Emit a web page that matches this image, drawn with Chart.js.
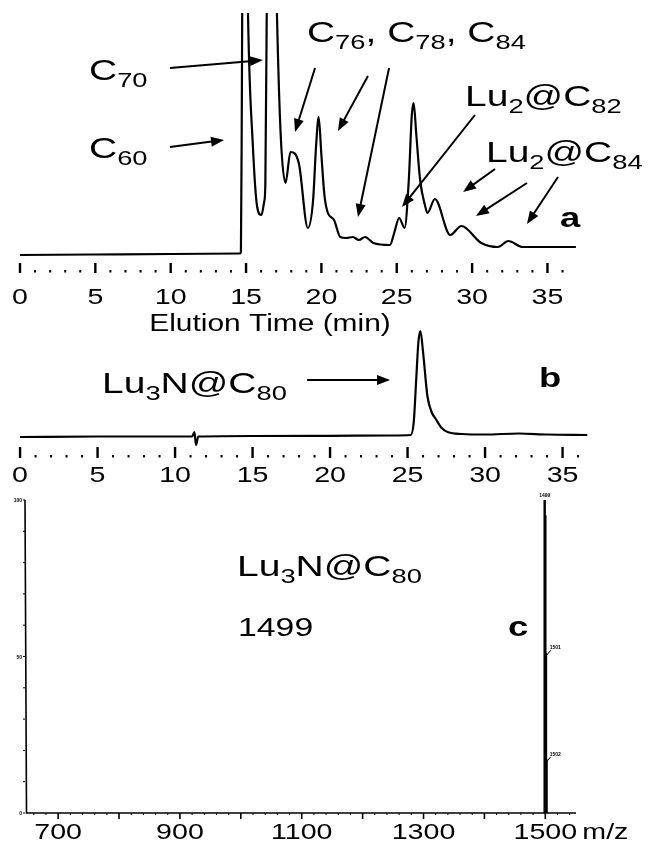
<!DOCTYPE html>
<html>
<head>
<meta charset="utf-8">
<script src="https://cdn.jsdelivr.net/npm/chart.js@4.4.0/dist/chart.umd.min.js"></script>
<style>
  body { margin: 0; background: #fff; width: 649px; height: 842px; position: relative; overflow: hidden; }
  canvas { position: absolute; left: 0; }
</style>
</head>
<body>
<canvas id="chartA" width="649" height="345" style="top:0px"></canvas>
<canvas id="chartB" width="649" height="170" style="top:320px"></canvas>
<canvas id="chartC" width="649" height="362" style="top:480px"></canvas>
<script>
// ---- data ----
// (a) HPLC of the soot extract, elution time (min) vs detector signal (arb.)
const chromA_time = [0, 5, 10, 14.6, 14.66, 14.72, 14.85, 15.0, 15.13, 15.45, 15.74, 16.02, 16.2, 16.28, 16.4, 16.6, 16.85, 17.05,
  17.3, 17.62, 17.95, 18.5, 19.1, 19.45, 19.65, 19.82, 20.0, 20.2, 20.43, 20.84, 21.25, 21.65, 22.08, 22.49, 22.9, 23.45, 24.55, 24.83,
  25.16, 25.52, 25.8, 26.0, 26.12, 26.3, 26.55, 26.9, 27.03, 27.53, 28.55, 29.29, 30.61, 31.71, 32.4, 33.36, 34.47, 36.89];
const chromA_signal = [0, 0.5, 1, 1.5, 3, 150, 600, 400, 241, 110, 48, 40, 53, 70, 300, 600, 400, 241,
  120, 72, 103, 92, 27, 55, 110, 138, 100, 60, 42, 35, 18, 17, 18, 15, 18, 12, 10, 22,
  37, 27, 75, 140, 152, 120, 75, 48, 42, 56, 20, 29, 12, 8, 14, 8, 8, 8];

// (b) HPLC of the purified Lu3N@C80
const chromB_time = [0, 5, 11.1, 11.25, 11.35, 11.5, 15, 20, 24, 25.2, 25.4, 25.55, 25.7, 25.83, 26.0, 26.28, 26.55, 26.82, 27.2, 27.62, 28.5, 30, 32.2, 34, 36.6];
const chromB_signal = [0, 0.5, 0.5, 5, -8, 0.5, 1, 1.2, 1.5, 2, 15, 55, 95, 106, 85, 41, 25, 18, 9, 4.7, 3, 2.5, 3.5, 2.5, 2];

// (c) mass spectrum, m/z vs relative intensity
const msMass = [1499, 1500, 1501, 1502];
const msIntensity = [100, 95, 51, 17];

const timeTicks = [0, 5, 10, 15, 20, 25, 30, 35];
const massTicks = [700, 900, 1100, 1300, 1500];

// ---- annotations (data units of each panel) ----
const labelsA = [
  { parts: [['C', 0], ['70', 1]], x: 4.58, y: 175 },
  { parts: [['C', 0], ['60', 1]], x: 4.58, y: 97 },
  { parts: [['C', 0], ['76', 1], [', C', 0], ['78', 1], [', C', 0], ['84', 1]], x: 19.04, y: 213 },
  { parts: [['Lu', 0], ['2', 1], ['@C', 0], ['82', 1]], x: 29.53, y: 149 },
  { parts: [['Lu', 0], ['2', 1], ['@C', 0], ['84', 1]], x: 30.92, y: 93 }
];
const arrowsA = [
  [9.95, 187, 16.12, 195], [9.95, 108, 13.54, 115],
  [19.58, 187, 18.25, 123], [23.09, 179, 21.1, 124], [24.49, 187, 22.43, 38],
  [30.19, 140, 25.35, 48],
  [31.52, 86, 29.4, 63], [33.64, 72, 30.26, 39], [35.7, 78, 33.64, 31]
];
const labelsB = [{ parts: [['Lu', 0], ['3', 1], ['N@C', 0], ['80', 1]], x: 5.29, y: 44 }];
const arrowsB = [[18.52, 57, 23.87, 57]];
const labelsC = [{ parts: [['Lu', 0], ['3', 1], ['N@C', 0], ['80', 1]], x: 993.8, y: 75.7 }];

const FONT = '"Liberation Sans", Arial, Helvetica, sans-serif';
const STRETCH = 1.3;

function drawText(ctx, s, x, y, size, bold, align) {
  ctx.font = (bold ? 'bold ' : '') + size + 'px ' + FONT;
  const w = ctx.measureText(s).width * STRETCH;
  let x0 = x;
  if (align === 'center') x0 = x - w / 2;
  ctx.save();
  ctx.translate(x0, y);
  ctx.scale(STRETCH, 1);
  ctx.fillText(s, 0, 0);
  ctx.restore();
  return w;
}

function drawFormula(ctx, parts, x, y) {
  let cx = x;
  parts.forEach(p => {
    if (p[1]) cx += drawText(ctx, p[0], cx, y + 7, 21, false);
    else cx += drawText(ctx, p[0], cx, y, 30, false);
  });
}

function drawArrow(ctx, x1, y1, x2, y2) {
  const a = Math.atan2(y2 - y1, x2 - x1);
  const len = 13, half = 5;
  ctx.beginPath();
  ctx.moveTo(x1, y1);
  ctx.lineTo(x2 - Math.cos(a) * len * 0.8, y2 - Math.sin(a) * len * 0.8);
  ctx.stroke();
  ctx.beginPath();
  ctx.moveTo(x2, y2);
  ctx.lineTo(x2 - Math.cos(a) * len - Math.sin(a) * half, y2 - Math.sin(a) * len + Math.cos(a) * half);
  ctx.lineTo(x2 - Math.cos(a) * len + Math.sin(a) * half, y2 - Math.sin(a) * len - Math.cos(a) * half);
  ctx.closePath();
  ctx.fill();
}

// dotted time axis under the chromatograms, drawn from the chart's own x scale
function timeAxisPlugin(cfg) {
  return {
    id: 'timeAxis',
    afterDraw(chart) {
      const ctx = chart.ctx, xs = chart.scales.x, ys = chart.scales.y;
      const y0 = ys.getPixelForValue(0);
      ctx.save();
      ctx.fillStyle = '#000';
      ctx.strokeStyle = '#000';
      for (let t = 0; t <= 36; t++) {
        const px = xs.getPixelForValue(t);
        if (t % 5 === 0) ctx.fillRect(px - 1.2, y0 + cfg.tickTop, 2.4, cfg.tickLen);
        else ctx.fillRect(px - 1, y0 + cfg.tickTop + cfg.tickLen - 3, 2, 2.5);
      }
      ctx.textBaseline = 'alphabetic';
      timeTicks.forEach(t => drawText(ctx, String(t), xs.getPixelForValue(t), y0 + cfg.labelOff, 22, false, 'center'));
      if (cfg.title) drawText(ctx, cfg.title, cfg.titleX, y0 + cfg.titleOff, 23, false, 'center');

      ctx.lineWidth = 2;
      cfg.labels.forEach(l => drawFormula(ctx, l.parts, xs.getPixelForValue(l.x), ys.getPixelForValue(l.y)));
      cfg.arrows.forEach(a => drawArrow(ctx, xs.getPixelForValue(a[0]), ys.getPixelForValue(a[1]),
        xs.getPixelForValue(a[2]), ys.getPixelForValue(a[3])));
      drawText(ctx, cfg.tag, xs.getPixelForValue(cfg.tagX), ys.getPixelForValue(cfg.tagY), 28, true);
      ctx.restore();
    }
  };
}

function lineChart(id, xs, ys, xr, yr, pad, plugin) {
  return new Chart(document.getElementById(id), {
    type: 'line',
    data: {
      datasets: [{
        data: xs.map((t, i) => ({ x: t, y: ys[i] })),
        borderColor: '#000',
        borderWidth: 2.2,
        pointRadius: 0,
        cubicInterpolationMode: 'monotone',
        fill: false,
        clip: 1
      }]
    },
    options: {
      responsive: false,
      animation: false,
      events: [],
      layout: { padding: pad },
      plugins: { legend: { display: false }, tooltip: { enabled: false } },
      scales: {
        x: { type: 'linear', min: xr[0], max: xr[1], display: false },
        y: { type: 'linear', min: yr[0], max: yr[1], display: false }
      }
    },
    plugins: [plugin]
  });
}

lineChart('chartA', chromA_time, chromA_signal, [-0.53, 37.16], [-3, 241],
  { left: 12, right: 69, top: 14, bottom: 87 },
  timeAxisPlugin({ tickTop: 8, tickLen: 10, labelOff: 49, title: 'Elution Time (min)', titleX: 270, titleOff: 76,
    labels: labelsA, arrows: arrowsA, tag: 'a', tagX: 35.83, tagY: 28 }));

lineChart('chartB', chromB_time, chromB_signal, [-0.52, 36.9], [-13, 111],
  { left: 12, right: 57, top: 6, bottom: 40 },
  timeAxisPlugin({ tickTop: 10, tickLen: 11, labelOff: 45, title: '',
    labels: labelsB, arrows: arrowsB, tag: 'b', tagX: 33.48, tagY: 50 }));

// mass spectrum axes and peak labels
const msAxisPlugin = {
  id: 'msAxis',
  afterDraw(chart) {
    const ctx = chart.ctx, xs = chart.scales.x, ys = chart.scales.y;
    const left = xs.getPixelForValue(xs.min), right = xs.getPixelForValue(xs.max);
    const top = ys.getPixelForValue(100), bottom = ys.getPixelForValue(0);
    ctx.save();
    ctx.strokeStyle = '#000';
    ctx.fillStyle = '#000';
    ctx.lineWidth = 1.6;
    ctx.beginPath();
    ctx.moveTo(left, top); ctx.lineTo(left + 1.5, bottom); ctx.lineTo(right, bottom);
    ctx.stroke();
    ctx.lineWidth = 1;
    for (let v = 0; v <= 100; v += 10) {
      const py = ys.getPixelForValue(v);
      ctx.beginPath(); ctx.moveTo(left - 2, py); ctx.lineTo(left, py); ctx.stroke();
    }
    for (let m = 660; m <= 1540; m += 20) {
      const px = xs.getPixelForValue(m);
      const major = m % 100 === 0;
      ctx.lineWidth = major ? 1.6 : 1;
      ctx.beginPath(); ctx.moveTo(px, bottom); ctx.lineTo(px, bottom + (major ? 6 : 2)); ctx.stroke();
    }
    massTicks.forEach(m => drawText(ctx, String(m), xs.getPixelForValue(m), bottom + 26, 22, false, 'center'));
    drawText(ctx, 'm/z', xs.getPixelForValue(1500) + 37, bottom + 26, 22, false);
    // tiny intensity labels of the y axis
    ctx.font = 'bold 5px ' + FONT;
    ctx.textAlign = 'right';
    ctx.fillText('100', left - 3, top + 2);
    ctx.fillText('50', left - 3, ys.getPixelForValue(50) + 2);
    ctx.fillText('0', left - 3, bottom + 2);
    // tiny peak labels
    const pk = xs.getPixelForValue(msMass[0]);
    ctx.textAlign = 'center';
    ctx.fillText(String(msMass[0]), pk, ys.getPixelForValue(msIntensity[0]) - 3);
    ctx.textAlign = 'left';
    [2, 3].forEach(i => {
      const py = ys.getPixelForValue(msIntensity[i]);
      ctx.beginPath(); ctx.moveTo(pk + 1, py + 3); ctx.lineTo(pk + 6, py - 3); ctx.stroke();
      ctx.fillText(String(msMass[i]), pk + 5, py - 4);
    });
    // annotations
    labelsC.forEach(l => drawFormula(ctx, l.parts, xs.getPixelForValue(l.x), ys.getPixelForValue(l.y)));
    drawText(ctx, '1499', xs.getPixelForValue(995.4), ys.getPixelForValue(56.5), 26, false);
    drawText(ctx, 'c', xs.getPixelForValue(1438.7), ys.getPixelForValue(56.5), 28, true);
    ctx.restore();
  }
};

new Chart(document.getElementById('chartC'), {
  type: 'bar',
  data: {
    datasets: [{
      data: msMass.map((m, i) => ({ x: m, y: msIntensity[i] })),
      backgroundColor: '#000',
      barThickness: 1.8,
      grouped: false
    }]
  },
  options: {
    responsive: false,
    animation: false,
    events: [],
    layout: { padding: { left: 25, right: 73, top: 20, bottom: 29 } },
    plugins: { legend: { display: false }, tooltip: { enabled: false } },
    scales: {
      x: { type: 'linear', min: 645.6, max: 1550.4, offset: false, display: false },
      y: { type: 'linear', min: 0, max: 100, display: false }
    }
  },
  plugins: [msAxisPlugin]
});
</script>
</body>
</html>
